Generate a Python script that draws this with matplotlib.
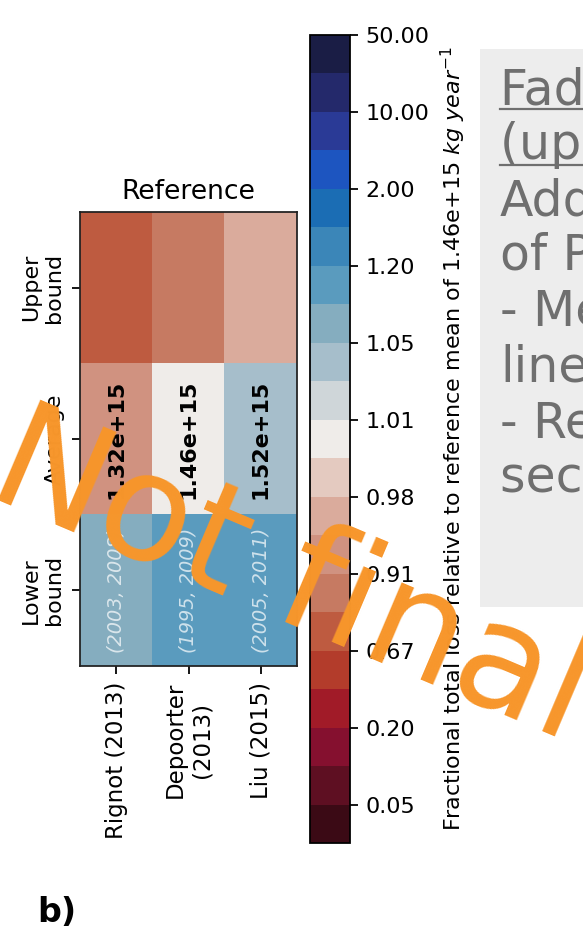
import matplotlib
matplotlib.use("Agg")
import matplotlib.pyplot as plt
import numpy as np
from matplotlib.colors import ListedColormap, BoundaryNorm
from matplotlib.ticker import FixedLocator, FormatStrFormatter
from matplotlib.lines import Line2D
from matplotlib.patches import Rectangle

# ---- data -------------------------------------------------------------
studies = ["Rignot (2013)", "Depoorter\n(2013)", "Liu (2015)"]
row_labels = ["Upper\nbound", "Average", "Lower\nbound"]
study_periods = ["(2003, 2008)", "(1995, 2009)", "(2005, 2011)"]

reference_mean = 1.4553e15          # kg / year
upper_bound = [1.077e15, 1.252e15, 1.404e15]
average = [1.3249e15, 1.4565e15, 1.5213e15]
lower_bound = [1.557e15, 1.674e15, 1.688e15]

level_edges = [0.01, 0.05, 0.1, 0.2, 0.4, 0.67, 0.8, 0.91, 0.95, 0.98, 0.995,
               1.01, 1.03, 1.05, 1.1, 1.2, 1.5, 2.0, 5.0, 10.0, 20.0, 50.0]
level_ticks = [0.05, 0.2, 0.67, 0.91, 0.98, 1.01, 1.05, 1.2, 2.0, 10.0, 50.0]

# diverging "balance"-style palette, low (red) to high (blue)
level_colours = ["#3b0a15", "#5e0f22", "#85102f", "#a11b28", "#b33c2b",
                 "#be5b40", "#c67a62", "#d09280", "#daab9c", "#e4cac0",
                 "#efece9", "#cfd6d9", "#a6becb", "#85adbf", "#5a9bbe",
                 "#3b86b8", "#1b6db4", "#1d55c0", "#2a3a96", "#24296b",
                 "#1a1d45"]

# ---- figure -----------------------------------------------------------
W, H, DPI = 583, 931, 160
fig = plt.figure(figsize=(W / DPI, H / DPI), dpi=DPI)


def fx(px):
    return px / W


def fy(py):
    return 1 - py / H


cmap = ListedColormap(level_colours)
norm = BoundaryNorm(level_edges, cmap.N)

ratios = np.array([upper_bound, average, lower_bound]) / reference_mean

ax = fig.add_axes([fx(80), fy(666), fx(297) - fx(80), fy(212) - fy(666)])
mesh = ax.imshow(ratios, cmap=cmap, norm=norm, aspect="auto",
                 interpolation="nearest")
ax.set_title("Reference", fontsize=12)
ax.set_xticks(range(len(studies)))
ax.set_xticklabels(studies, rotation=90, ha="center", va="top",
                   multialignment="center", fontsize=10.3)
ax.set_yticks(range(len(row_labels)))
ax.set_yticklabels(row_labels, rotation=90, va="center", ha="right",
                   multialignment="center")
for sp in ax.spines.values():
    sp.set_color("#222222")

for j, val in enumerate(average):
    ax.text(j, 1, f"{val:.2e}", rotation=90, ha="center", va="center",
            fontsize=10, fontweight="bold", color="black")
for j, period in enumerate(study_periods):
    ax.text(j, 2, period, rotation=90, ha="center", va="center",
            fontsize=8.7, fontstyle="italic", color="white", alpha=0.7)

cax = fig.add_axes([fx(310), fy(843), fx(350) - fx(310), fy(35) - fy(843)])
cb = fig.colorbar(mesh, cax=cax, spacing="uniform")
cb.set_ticks(level_ticks)
cb.ax.yaxis.set_major_locator(FixedLocator(level_ticks))
cb.ax.yaxis.set_major_formatter(FormatStrFormatter("%.2f"))
cb.ax.minorticks_off()
cb.set_label("Fractional total loss relative to reference mean of "
             f"{reference_mean:.2e} " + r"$kg\ year^{-1}$", fontsize=10)

# ---- review note box ----------------------------------------------------
fig.add_artist(Rectangle((fx(480), fy(607)), 0.5, fy(49) - fy(607),
                         transform=fig.transFigure, facecolor="#ededed",
                         edgecolor="none", zorder=1))
note_lines = ["Faded bounds", "(upper & lower)", "Addition", "of Paolo",
              "- Mean as", "lines", "- Removed", "second panel"]
note_base = [105, 159, 215, 270, 325, 381, 437, 492]
for line, yb in zip(note_lines, note_base):
    fig.text(fx(500), fy(yb), line, fontsize=22, color="#6f6f6f",
             ha="left", va="baseline", zorder=2)
for yb in (109, 165):
    fig.add_artist(Line2D([fx(500), 1.0], [fy(yb), fy(yb)],
                          transform=fig.transFigure, color="#6f6f6f",
                          lw=1.0, zorder=2))

fig.text(fx(37), fy(922), "b)", fontsize=15, fontweight="bold",
         ha="left", va="baseline")

# draft stamp
fig.text(fx(-16), fy(494), "Not final", rotation=-23, rotation_mode="anchor",
         ha="left", va="baseline", fontsize=67.5, color="#f7962b", zorder=20)

fig.savefig("out.png", dpi=DPI)
